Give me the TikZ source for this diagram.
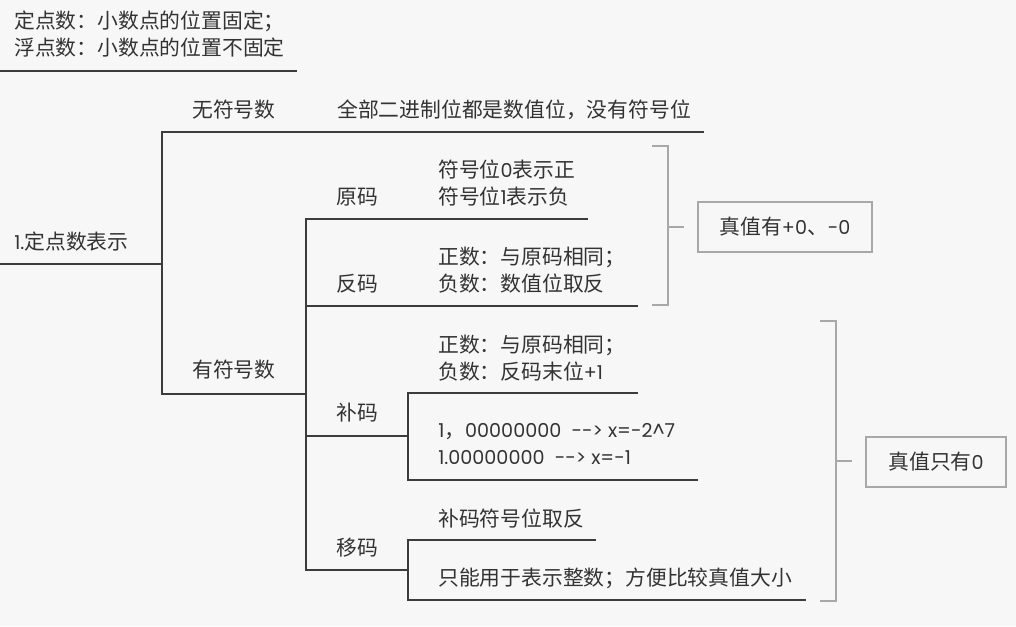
\documentclass[tikz,border=0pt]{standalone}
\usepackage{fontspec}
\setmainfont{Noto Sans CJK SC}
\newfontfamily\lat[Scale=0.92]{Poppins}
\definecolor{bgcol}{HTML}{F7F7F7}
\definecolor{txtcol}{HTML}{333333}
\definecolor{linecol}{HTML}{3C3C3C}
\definecolor{brkcol}{HTML}{A8A8A8}
\tikzset{
  lbl/.style={anchor=west, inner sep=0pt, text=txtcol, font=\fontsize{15.6}{20.25}\selectfont},
  twoline/.style={lbl, align=left},
  tree/.style={draw=linecol, line width=1.4pt},
  brk/.style={draw=brkcol, line width=2.2pt},
  summ/.style={draw=brkcol, line width=2.2pt, inner sep=0pt, text=txtcol,
    font=\fontsize{15.6}{20.25}\selectfont}
}
\begin{document}
\begin{tikzpicture}[x=0.75pt, y=-0.75pt]
% background, 1016 x 626 px
\fill[bgcol] (0,0) rectangle (1016,626);
\useasboundingbox (0,0) rectangle (1016,626);

% Intro text
\node[twoline] (intro) at (14,34) {定点数：小数点的位置固定；\\浮点数：小数点的位置不固定};
\coordinate (intro-a) at (0,71);
\coordinate (intro-b) at (297,71);
\draw[tree] (intro-a) -- (intro-b);

% Labels of the tree
\node[lbl] (root) at (14,242) {{\lat 1.}定点数表示};
\node[lbl] (uns) at (192,110) {无符号数};
\node[lbl] (unsdesc) at (337,110) {全部二进制位都是数值位，没有符号位};
\node[lbl] (sig) at (192,370) {有符号数};
\node[lbl] (yuan) at (336,197) {原码};
\node[twoline] (yuandesc) at (438,183.5) {符号位{\lat 0}表示正\\符号位{\lat 1}表示负};
\node[lbl] (fan) at (336,284) {反码};
\node[twoline] (fandesc) at (438,270.5) {正数：与原码相同；\\负数：数值位取反};
\node[lbl] (bu) at (336,413) {补码};
\node[twoline] (budescA) at (438,358.5) {正数：与原码相同；\\负数：反码末位{\lat +1}};
\node[twoline] (budescB) at (438,444.5) {{\lat 1}，{\lat 00000000\ \ -{}-> x=-2\^{}7}\\{\lat 1.00000000\ \ -{}-> x=-1}};
\node[lbl] (yi) at (336,548) {移码};
\node[lbl] (yidescA) at (438,519) {补码符号位取反};
\node[lbl] (yidescB) at (438,578) {只能用于表示整数；方便比较真值大小};

% Branch points
\coordinate (root-a) at (0,264);
\coordinate (root-b) at (162,264);
\coordinate (uns-a) at (162,132);
\coordinate (uns-b) at (704,132);
\coordinate (sig-a) at (162,394);
\coordinate (sig-b) at (306,394);
\coordinate (yuan-a) at (306,219);
\coordinate (yuan-b) at (588,219);
\coordinate (fan-a) at (306,306);
\coordinate (fan-b) at (638,306);
\coordinate (bu-a) at (306,436);
\coordinate (bu-b) at (408,436);
\coordinate (buA-a) at (408,393);
\coordinate (buA-b) at (638,393);
\coordinate (buB-a) at (408,480);
\coordinate (buB-b) at (698,480);
\coordinate (yi-a) at (306,570);
\coordinate (yi-b) at (408,570);
\coordinate (yiA-a) at (408,540);
\coordinate (yiA-b) at (596,540);
\coordinate (yiB-a) at (408,600);
\coordinate (yiB-b) at (806,600);

% Tree lines
\draw[tree] (root-a) -- (root-b);
\draw[tree] (uns-b) -- (uns-a) -- (sig-a) -- (sig-b);
\draw[tree] (yuan-b) -- (yuan-a) -- (yi-a) -- (yi-b);
\draw[tree] (fan-a) -- (fan-b);
\draw[tree] (bu-a) -- (bu-b);
\draw[tree] (buA-b) -- (buA-a) -- (buB-a) -- (buB-b);
\draw[tree] (yiA-b) -- (yiA-a) -- (yiB-a) -- (yiB-b);

% Summary brackets
\coordinate (brA-t) at (652,146);
\coordinate (brA-b) at (652,305);
\coordinate (brA-m) at (668,227);
\node[summ, minimum width=130.5pt, minimum height=37.5pt] (zeroA) at (785,227) {真值有{\lat +0}、{\lat -0}};
\draw[brk] (brA-t) -- ++(16,0) |- (brA-b);
\draw[brk] (brA-m) -- ++(16,0);

\coordinate (brB-t) at (820,321);
\coordinate (brB-b) at (820,601);
\coordinate (brB-m) at (836,461);
\node[summ, minimum width=105pt, minimum height=37.5pt] (zeroB) at (936,462) {真值只有{\lat 0}};
\draw[brk] (brB-t) -- ++(16,0) |- (brB-b);
\draw[brk] (brB-m) -- ++(16,0);
\end{tikzpicture}
\end{document}
